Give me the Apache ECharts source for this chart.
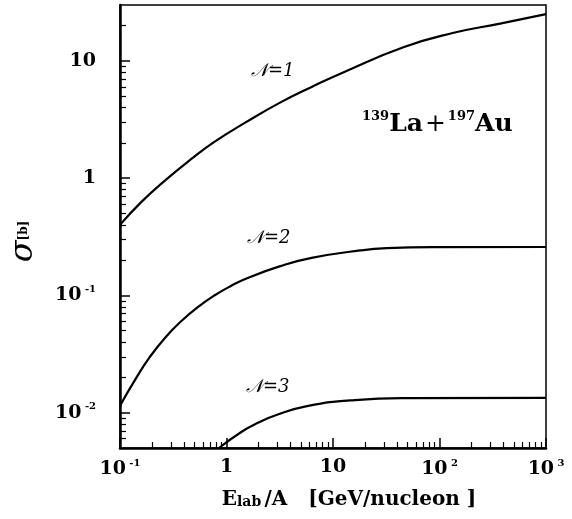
<!DOCTYPE html>
<html>
<head>
<meta charset="utf-8">
<script src="https://cdn.jsdelivr.net/npm/echarts@6/dist/echarts.min.js"></script>
<style>
  html, body { margin: 0; padding: 0; background: #fff; }
  #chart { width: 572px; height: 519px; }
</style>
</head>
<body>
<div id="chart"></div>
<script>
// energies E_lab/A [GeV/nucleon] and cross sections sigma [b]
var n1Data = [[0.1, 0.40], [0.159, 0.628], [0.269, 0.968], [0.455, 1.43], [0.769, 2.04], [1.54, 3.02],
  [3.15, 4.39], [6.3, 6.0], [12.6, 8.02], [46.5, 13.15], [133, 17.3], [380, 20.9], [1000, 25.1]];
var n2Data = [[0.1, 0.0115], [0.143, 0.02], [0.188, 0.0294], [0.269, 0.0443], [0.384, 0.0615],
  [0.538, 0.0796], [0.769, 0.0998], [1.1, 0.1205], [1.54, 0.1396], [3.15, 0.177], [6.3, 0.209],
  [18, 0.242], [32, 0.253], [100, 0.258], [1000, 0.259]];
var n3Data = [[0.85, 0.005], [1.4, 0.00692], [2.0, 0.00824], [2.9, 0.00951], [5.7, 0.01138],
  [16, 0.01282], [50, 0.0133], [1000, 0.0134]];

// axis ticks
var xMajor = [0.1, 1, 10, 100, 1000];
var yMajor = [0.01, 0.1, 1, 10];
var xRange = [0.1, 1000];
var yRange = [0.005, 30];

function minorTicks (majors, lo, hi) {
  var out = [];
  majors.concat([majors[0] / 10]).forEach(function (m) {
    for (var k = 2; k <= 9; k++) {
      var v = +(m * k).toPrecision(3);
      if (v > lo && v < hi) out.push(v);
    }
  });
  return out;
}

var serif = '"DejaVu Serif", "Liberation Serif", serif';

function powLabel (v) {
  var e = Math.round(Math.log10(v));
  if (e === 0) return '{b|1}';
  if (e === 1) return '{b|10}';
  return '{b|10} {s|' + e + '}';
}

var labelRich = {
  b: { fontFamily: serif, fontWeight: 'bold', fontSize: 19, color: '#000' },
  s: { fontFamily: serif, fontWeight: 'bold', fontSize: 10, color: '#000', padding: [0, 0, 12, 0] }
};

var chartDom = document.getElementById('chart');
var myChart = echarts.init(chartDom);
var option;

var axisBase = {
  type: 'log',
  logBase: 10,
  splitLine: { show: false },
  minorTick: { show: false }
};

option = {
  animation: false,
  backgroundColor: '#fff',
  grid: {
    left: 108, right: 26, top: 5, bottom: 71,
    show: true, borderColor: '#000', borderWidth: 1.5
  },
  xAxis: [
    Object.assign({}, axisBase, {
      min: xRange[0], max: xRange[1], position: 'bottom',
      axisLine: { lineStyle: { color: '#000', width: 2.5 } },
      axisTick: { inside: true, length: 10, customValues: xMajor, lineStyle: { color: '#000', width: 1.5 } },
      axisLabel: { customValues: xMajor, margin: 10, formatter: powLabel, rich: labelRich },
      name: '{E|E}{lab|lab} {n|/A   [GeV/nucleon ]}',
      nameLocation: 'middle',
      nameGap: 42,
      nameTextStyle: {
        padding: [0, 0, 0, 32],
        rich: {
          E: { fontFamily: serif, fontWeight: 'bold', fontSize: 20, color: '#000' },
          lab: { fontFamily: serif, fontWeight: 'bold', fontSize: 14, color: '#000', padding: [4, 0, 0, 0] },
          n: { fontFamily: serif, fontWeight: 'bold', fontSize: 20, color: '#000' }
        }
      }
    }),
    Object.assign({}, axisBase, {
      min: xRange[0], max: xRange[1], position: 'bottom',
      axisLine: { show: false },
      axisTick: { inside: true, length: 6, customValues: minorTicks(xMajor, xRange[0], xRange[1]), lineStyle: { color: '#000', width: 1.2 } },
      axisLabel: { show: false }
    })
  ],
  yAxis: [
    Object.assign({}, axisBase, {
      min: yRange[0], max: yRange[1], position: 'left',
      axisLine: { lineStyle: { color: '#000', width: 2.5 } },
      axisTick: { inside: true, length: 10, customValues: yMajor, lineStyle: { color: '#000', width: 1.5 } },
      axisLabel: { customValues: yMajor, margin: 24, formatter: powLabel, rich: labelRich },
      name: '{sig|σ}{u|[b]}',
      nameLocation: 'middle',
      nameGap: 80,
      nameRotate: 90,
      nameTextStyle: {
        padding: [0, 30, 0, 0],
        rich: {
          sig: { fontFamily: serif, fontStyle: 'italic', fontSize: 32, color: '#000' },
          u: { fontFamily: serif, fontWeight: 'bold', fontSize: 12, color: '#000' }
        }
      }
    }),
    Object.assign({}, axisBase, {
      min: yRange[0], max: yRange[1], position: 'left',
      axisLine: { show: false },
      axisTick: { inside: true, length: 6, customValues: minorTicks(yMajor, yRange[0], yRange[1]), lineStyle: { color: '#000', width: 1.2 } },
      axisLabel: { show: false }
    })
  ],
  series: [
    { name: 'N=1', type: 'line', data: n1Data },
    { name: 'N=2', type: 'line', data: n2Data },
    { name: 'N=3', type: 'line', data: n3Data }
  ].map(function (s) {
    return Object.assign(s, {
      xAxisIndex: 0, yAxisIndex: 0,
      smooth: 0.5, showSymbol: false, clip: true,
      lineStyle: { color: '#000', width: 2.2 }
    });
  }),
  graphic: [
    { type: 'text', x: 251, y: 62, style: { text: '𝒩=1', font: 'italic 18px ' + serif, fill: '#000' } },
    { type: 'text', x: 247, y: 229, style: { text: '𝒩=2', font: 'italic 18px ' + serif, fill: '#000' } },
    { type: 'text', x: 246, y: 378, style: { text: '𝒩=3', font: 'italic 18px ' + serif, fill: '#000' } },
    {
      type: 'text', x: 362, y: 110,
      style: {
        text: '{s|139}{b|La}{p|+}{s|197}{b|Au}',
        rich: {
          s: { fontFamily: serif, fontWeight: 'bold', fontSize: 13, fill: '#000', padding: [0, 0, 15, 0] },
          b: { fontFamily: serif, fontWeight: 'bold', fontSize: 25, fill: '#000' },
          p: { fontFamily: serif, fontSize: 25, fill: '#000', padding: [0, 2, 0, 2] }
        }
      }
    }
  ]
};

option && myChart.setOption(option);
</script>
</body>
</html>
